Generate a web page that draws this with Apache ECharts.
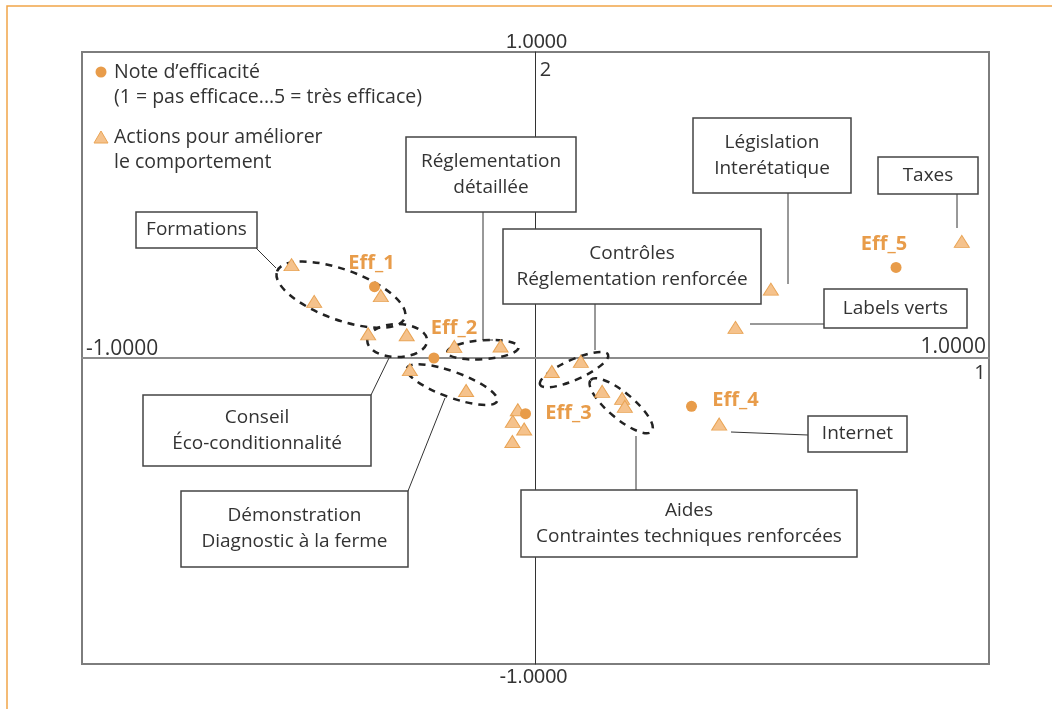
<!DOCTYPE html>
<html>
<head>
<meta charset="utf-8">
<script src="https://cdn.jsdelivr.net/npm/echarts@6/dist/echarts.min.js"></script>
<style>
html, body { margin: 0; padding: 0; background: #fff; }
#chart { width: 1052px; height: 709px; }
</style>
</head>
<body>
<div id="chart"></div>
<script>
// efficiency scores (circles)
const effNames = ['Eff_1', 'Eff_2', 'Eff_3', 'Eff_4', 'Eff_5'];
const effX = [-0.355, -0.224, -0.022, 0.344, 0.795];
const effY = [0.233, 0.000, -0.182, -0.158, 0.296];

// actions (triangles)
const actionX = [-0.538, -0.488, -0.341, -0.369, -0.284, -0.179, -0.077, -0.277, -0.153,
  0.036, 0.100, 0.147, 0.191, 0.197, -0.039, -0.050, -0.025, -0.051,
  0.940, 0.519, 0.441, 0.405];
const actionY = [0.305, 0.185, 0.204, 0.079, 0.076, 0.038, 0.039, -0.038, -0.106,
  -0.044, -0.011, -0.109, -0.132, -0.158, -0.169, -0.207, -0.232, -0.273,
  0.381, 0.225, 0.100, -0.216];

// dashed groupings (centre, half-axes in axis units, tilt in degrees)
const groupCx = [-0.429, -0.305, -0.116, -0.184, 0.085, 0.189];
const groupCy = [0.207, 0.057, 0.027, -0.087, -0.038, -0.156];
const groupRx = [0.150, 0.066, 0.079, 0.106, 0.082, 0.088];
const groupRy = [0.082, 0.054, 0.031, 0.042, 0.033, 0.042];
const groupTilt = [20, 0, -4, 20, -24, 40];

const hTickLabels = ['-1.0000', '1.0000'];
const vTickLabels = ['-1.0000', '1.0000'];
const axisNames = ['1', '2'];

const legendLines = [
  ['Note d\u2019efficacité', '(1 = pas efficace...5 = très efficace)'],
  ['Actions pour améliorer', 'le comportement']
];

const calloutTexts = [
  ['Formations'],
  ['Réglementation', 'détaillée'],
  ['Contrôles', 'Réglementation renforcée'],
  ['Législation', 'Interétatique'],
  ['Taxes'],
  ['Labels verts'],
  ['Internet'],
  ['Conseil', 'Éco-conditionnalité'],
  ['Démonstration', 'Diagnostic à la ferme'],
  ['Aides', 'Contraintes techniques renforcées']
];

// layout of the callout boxes (pixels) and their leader lines
const calloutBoxes = [
  { x: 136, y: 212, w: 121, h: 36, lead: [[255, 247], [276, 268]] },
  { x: 406, y: 137, w: 170, h: 75, lead: [[483, 212], [483, 340], [493, 340]] },
  { x: 503, y: 229, w: 258, h: 75, lead: [[595, 304], [595, 350]] },
  { x: 693, y: 118, w: 158, h: 75, lead: [[788, 193], [788, 284]] },
  { x: 878, y: 157, w: 100, h: 37, lead: [[957, 194], [957, 228]] },
  { x: 824, y: 289, w: 143, h: 39, lead: [[824, 324], [750, 324]] },
  { x: 808, y: 416, w: 99, h: 36, lead: [[808, 435], [731, 432]] },
  { x: 143, y: 395, w: 228, h: 71, lead: [[371, 395], [389, 358]] },
  { x: 181, y: 491, w: 227, h: 76, lead: [[408, 491], [445, 398]] },
  { x: 521, y: 490, w: 336, h: 67, lead: [[636, 490], [636, 436]] }
];

const effLabelOffset = [[-3, -23], [20, -30], [43, 0], [44, -6], [-12, -23]];

const FONT = '"Open Sans", sans-serif';
const ORANGE = '#e89c4a';
const TRI_FILL = '#f5c28c';
const TRI_LINE = '#e9a455';
const INK = '#333';

const chart = echarts.init(document.getElementById('chart'));

chart.setOption({
  animation: false,
  grid: { left: 82, right: 63, top: 52, bottom: 45, show: true, borderColor: '#7d7d7d', borderWidth: 2 },
  xAxis: {
    type: 'value', min: -1, max: 1,
    axisLine: { onZero: true, lineStyle: { color: '#8c8c8c', width: 2 } },
    axisTick: { show: false }, axisLabel: { show: false }, splitLine: { show: false }
  },
  yAxis: {
    type: 'value', min: -1, max: 1,
    axisLine: { onZero: true, lineStyle: { color: '#333', width: 1 } },
    axisTick: { show: false }, axisLabel: { show: false }, splitLine: { show: false }
  },
  series: [
    {
      type: 'custom',
      z: 2,
      encode: { x: 0, y: 1 },
      data: groupCx.map((c, i) => [c, groupCy[i], groupRx[i], groupRy[i], groupTilt[i]]),
      renderItem: function (params, api) {
        const c = api.coord([api.value(0), api.value(1)]);
        const rx = api.size([api.value(2), 0])[0];
        const ry = api.size([0, api.value(3)])[1];
        return {
          type: 'ellipse',
          x: c[0], y: c[1],
          rotation: -api.value(4) * Math.PI / 180,
          shape: { cx: 0, cy: 0, rx: rx, ry: ry },
          style: { fill: 'none', stroke: '#222', lineWidth: 2.5, lineDash: [7, 6] }
        };
      }
    },
    {
      name: 'Actions',
      type: 'scatter',
      z: 3,
      symbol: 'triangle',
      symbolSize: [15, 12],
      itemStyle: { color: TRI_FILL, borderColor: TRI_LINE, borderWidth: 1, opacity: 1 },
      data: actionX.map((x, i) => [x, actionY[i]])
    },
    {
      name: 'Eff',
      type: 'scatter',
      z: 4,
      symbol: 'circle',
      symbolSize: 11,
      itemStyle: { color: ORANGE, opacity: 1 },
      data: effX.map((x, i) => ({
        value: [x, effY[i]],
        name: effNames[i],
        label: {
          show: true, position: 'inside', offset: effLabelOffset[i],
          formatter: '{b}', color: ORANGE, fontWeight: 'bold', fontSize: 20, fontFamily: FONT
        }
      }))
    }
  ]
});

const px = (x, y) => chart.convertToPixel({ gridIndex: 0 }, [x, y]);
const pLeft = px(-1, 0), pRight = px(1, 0), pTop = px(0, 1), pBottom = px(0, -1);

const graphic = [];
// outer frame
graphic.push({ type: 'rect', z: 50, shape: { x: 7, y: 6, width: 1100, height: 800 },
  style: { fill: 'none', stroke: '#f1a548', lineWidth: 1.5 } });

// axis end values
graphic.push({ type: 'text', z: 50, x: pLeft[0] + 4, y: pLeft[1] - 9,
  style: { text: hTickLabels[0], font: '21px ' + FONT, fill: INK, align: 'left', verticalAlign: 'middle' } });
graphic.push({ type: 'text', z: 50, x: pRight[0] - 3, y: pRight[1] - 11,
  style: { text: hTickLabels[1], font: '21px ' + FONT, fill: INK, align: 'right', verticalAlign: 'middle' } });
graphic.push({ type: 'text', z: 50, x: pTop[0] + 1, y: pTop[1] - 10,
  style: { text: vTickLabels[1], font: '20px "Liberation Sans", sans-serif', fill: INK, align: 'center', verticalAlign: 'middle' } });
graphic.push({ type: 'text', z: 50, x: pBottom[0] - 2, y: pBottom[1] + 13,
  style: { text: vTickLabels[0], font: '20px "Liberation Sans", sans-serif', fill: INK, align: 'center', verticalAlign: 'middle' } });
graphic.push({ type: 'text', z: 50, x: pRight[0] - 9, y: pRight[1] + 15,
  style: { text: axisNames[0], font: '20px ' + FONT, fill: INK, align: 'center', verticalAlign: 'middle' } });
graphic.push({ type: 'text', z: 50, x: pTop[0] + 10, y: pTop[1] + 18,
  style: { text: axisNames[1], font: '20px ' + FONT, fill: INK, align: 'center', verticalAlign: 'middle' } });

// legend
graphic.push({ type: 'circle', z: 50, shape: { cx: 101, cy: 72, r: 5.5 }, style: { fill: ORANGE } });
graphic.push({ type: 'polygon', z: 50, shape: { points: [[94, 143], [108, 143], [101, 131]] },
  style: { fill: TRI_FILL, stroke: TRI_LINE, lineWidth: 1 } });
legendLines.forEach((lines, k) => {
  lines.forEach((t, j) => {
    graphic.push({ type: 'text', z: 50, x: 114, y: (k === 0 ? 72 : 137) + j * 25,
      style: { text: t, font: '19.5px ' + FONT, fill: INK, align: 'left', verticalAlign: 'middle' } });
  });
});

// callouts
calloutBoxes.forEach((b, i) => {
  graphic.push({ type: 'polyline', z: 60, shape: { points: b.lead },
    style: { stroke: INK, lineWidth: 1, fill: 'none' } });
  graphic.push({ type: 'rect', z: 61, shape: { x: b.x, y: b.y, width: b.w, height: b.h },
    style: { fill: '#fff', stroke: '#444', lineWidth: 1.5 } });
  graphic.push({ type: 'text', z: 62, x: b.x + b.w / 2, y: b.y + b.h / 2,
    style: { text: calloutTexts[i].join('\n'), font: '19px ' + FONT, lineHeight: 26,
      fill: INK, align: 'center', verticalAlign: 'middle' } });
});

chart.setOption({ graphic: graphic });
</script>
</body>
</html>
